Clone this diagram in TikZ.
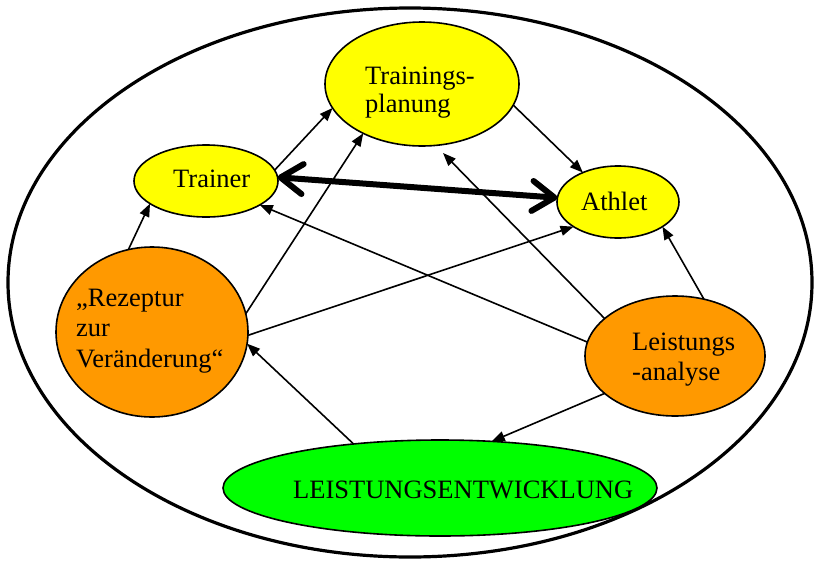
\documentclass[tikz,border=0pt]{standalone}
\usepackage{fontspec}
\setmainfont{Liberation Serif}
\usetikzlibrary{arrows.meta,shapes.geometric}
\definecolor{cyellow}{HTML}{FFFF00}
\definecolor{corange}{HTML}{FF9900}
\definecolor{cgreen}{HTML}{00FF00}
\begin{document}
\begin{tikzpicture}[x=1pt,y=-1pt,
  bub/.style={ellipse,draw=black,line width=1.6pt,inner sep=0pt,outer sep=0pt},
  lbl/.style={inner sep=0pt,anchor=base west,font=\fontsize{26.5}{30}\selectfont},
  conn/.style={line width=1.6pt,-{Triangle[length=13pt,width=10pt]}},
  thick2/.style={line width=6pt,line cap=round,{Straight Barb[length=22pt,width=30pt,round]}-{Straight Barb[length=22pt,width=30pt,round]}}
]
\useasboundingbox (0,0) rectangle (820,563);
\node[ellipse,draw=black,line width=3.2pt,minimum width=804pt,minimum height=549pt,inner sep=0pt] (outer) at (410,282.5) {};
\node[bub,fill=cyellow,minimum width=194pt,minimum height=124pt] (tp) at (422,84) {};
\node[bub,fill=cyellow,minimum width=144pt,minimum height=72pt] (tr) at (206,181) {};
\node[bub,fill=cyellow,minimum width=122pt,minimum height=72pt] (at) at (618,202) {};
\node[bub,fill=corange,minimum width=192pt,minimum height=170pt] (rz) at (152,332) {};
\node[bub,fill=corange,minimum width=180pt,minimum height=120pt] (la) at (675,356) {};
\node[bub,fill=cgreen,minimum width=434pt,minimum height=96pt] (le) at (440,488) {};
% texts
\node[lbl] (tp1) at (365,84) {Trainings-};
\node[lbl] (tp2) at (365,112) {planung};
\node[lbl] (trt) at (173,187) {Trainer};
\node[lbl] (att) at (581,210) {Athlet};
\node[lbl] (la1) at (632,350) {Leistungs};
\node[lbl] (la2) at (632,380) {-analyse};
\node[lbl] (rz1) at (76,306) {„Rezeptur};
\node[lbl] (rz2) at (76,336) {zur};
\node[lbl] (rz3) at (76,367) {Veränderung“};
\node[lbl] (let) at (293,498) {LEISTUNGSENTWICKLUNG};
\coordinate (free) at (443,153);
% connectors
\draw[conn] (tr.9) -- (tp.195);
\draw[conn] (rz.106) -- (tr.202.5);
\draw[conn] (rz.11.7) -- (tp.220.4);
\draw[conn] (rz.-2.4) -- (at.209);
\draw[conn] (la.171.8) -- (tr.-24.5);
\draw[conn] (la.152.1) -- (free);
\draw[conn] (la.63) -- (at.-29.9);
\draw[conn] (la.208.5) -- (le.42.6);
\draw[conn] (le.153.2) -- (rz.-7.5);
\draw[conn] (tp.-13) -- (at.140.7);
\draw[thick2] (tr.3.3) -- (at.176.2);
\end{tikzpicture}
\end{document}
